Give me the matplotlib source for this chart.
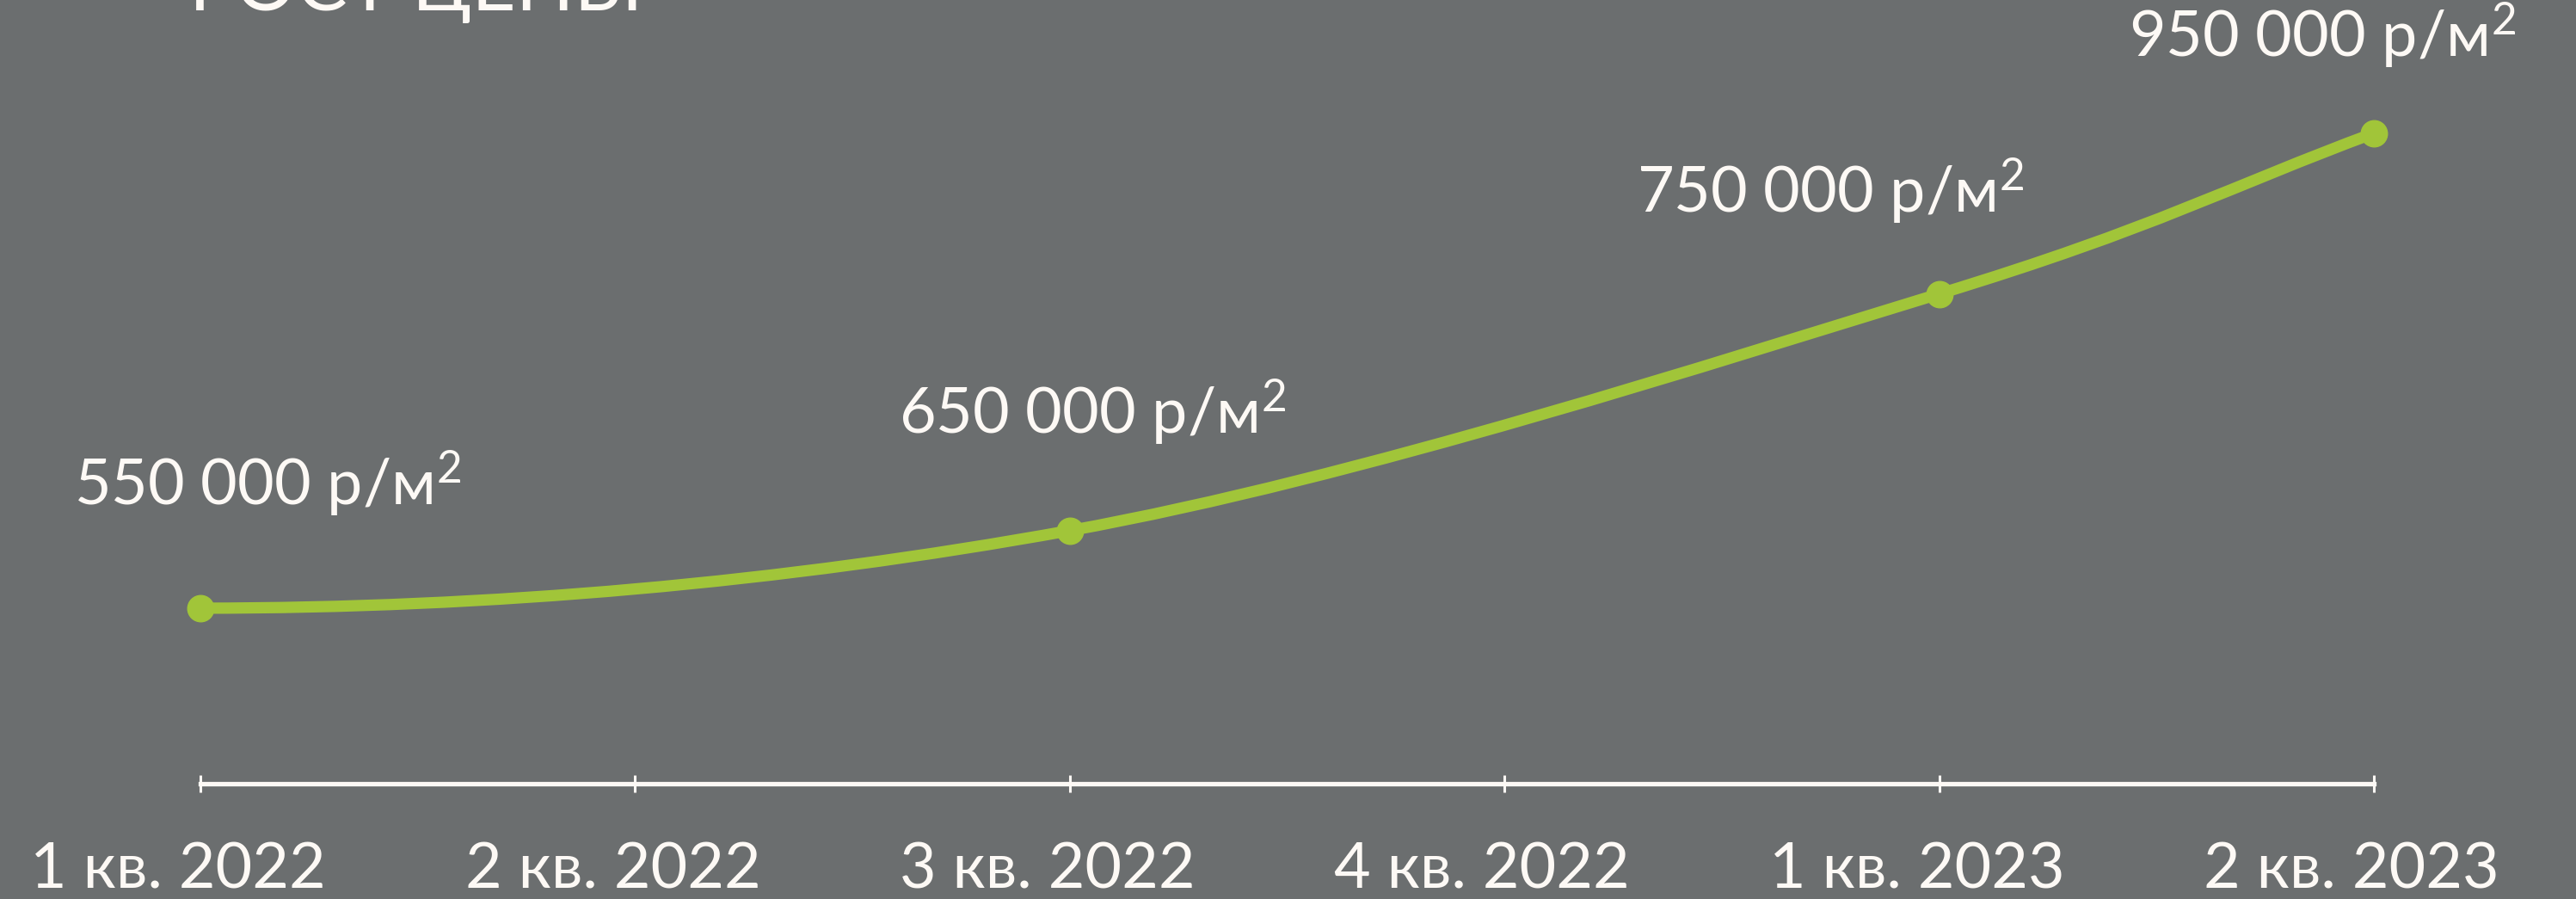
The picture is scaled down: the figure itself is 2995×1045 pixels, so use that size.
import numpy as np
import matplotlib.pyplot as plt
from matplotlib.path import Path
from matplotlib.patches import PathPatch
from matplotlib.transforms import ScaledTranslation

# quarters on the x axis
quarters = ['1 кв. 2022', '2 кв. 2022', '3 кв. 2022', '4 кв. 2022', '1 кв. 2023', '2 кв. 2023']

# price points: quarter index, price (р/м²) and the height of the point on the curve
# (the curve is not to scale, heights are read off the picture as % of chart height)
point_quarter = [0, 2, 4, 5]
prices = [550000, 650000, 750000, 950000]
point_level = [22.4, 32.3, 62.5, 83.0]

BG = '#6b6e6f'
GREEN = '#a1c539'
WHITE = '#fdf9f5'
FONT = 'Lato'

plt.rcParams['mathtext.default'] = 'regular'

# label offsets from the point (pixels, centre/baseline)
label_offsets = [(78, 119), (26, 112), (-127, 94), (-60, 88)]

fig = plt.figure(figsize=(29.95, 10.45), dpi=100, facecolor=BG)
ax = fig.add_axes([233 / 2995, 134 / 1045, (2760 - 233) / 2995, (1045 - 134) / 1045])
ax.set_facecolor('none')
ax.set_xlim(0, len(quarters) - 1)
ax.set_ylim(0, 100)

# smooth curve through the points (cubic bezier, catmull-rom style tangents)
pts = np.column_stack([point_quarter, point_level]).astype(float)
n = len(pts)
tangents = np.zeros_like(pts)
tangents[0] = [pts[1, 0] - pts[0, 0], 0.0]  # curve starts flat
for i in range(1, n - 1):
    tangents[i] = (pts[i + 1] - pts[i - 1]) / 2
tangents[-1] = pts[-1] - pts[-2]

verts = [pts[0]]
codes = [Path.MOVETO]
for i in range(n - 1):
    verts += [pts[i] + tangents[i] / 3, pts[i + 1] - tangents[i + 1] / 3, pts[i + 1]]
    codes += [Path.CURVE4] * 3
ax.add_patch(PathPatch(Path(verts, codes), fill=False, edgecolor=GREEN,
                       linewidth=9.5, capstyle='round', clip_on=False))
ax.plot(point_quarter, point_level, 'o', color=GREEN, markersize=22, clip_on=False)

# price labels
for q, lvl, p, off in zip(point_quarter, point_level, prices, label_offsets):
    txt = f"{p:,}".replace(',', ' ') + ' р/м$^2$'
    ax.annotate(txt, (q, lvl), xytext=off, textcoords='offset pixels',
                ha='center', va='baseline', color=WHITE, fontsize=53,
                family=FONT, fontweight='normal')

# x axis
for s in ['left', 'right', 'top']:
    ax.spines[s].set_visible(False)
ax.spines['bottom'].set_color(WHITE)
ax.spines['bottom'].set_linewidth(3.8)
ax.set_yticks([])
ax.set_xticks(range(len(quarters)))
ax.set_xticklabels(quarters, fontsize=53, color=WHITE, family=FONT, fontweight='normal')
ax.tick_params(axis='x', direction='inout', length=15, width=2.2, color=WHITE, pad=80)
shift = ScaledTranslation(-0.26, 0, fig.dpi_scale_trans)
for lab in ax.get_xticklabels():
    lab.set_verticalalignment('baseline')
    lab.set_transform(lab.get_transform() + shift)

# title, cut by the top edge as in the original
fig.text(220 / 2995, 1 - 12 / 1045, 'РОСТ ЦЕНЫ', color=WHITE, fontsize=64,
         family=FONT, fontweight='normal', va='baseline', ha='left')

fig.savefig('out.png', dpi=100, facecolor=BG)
